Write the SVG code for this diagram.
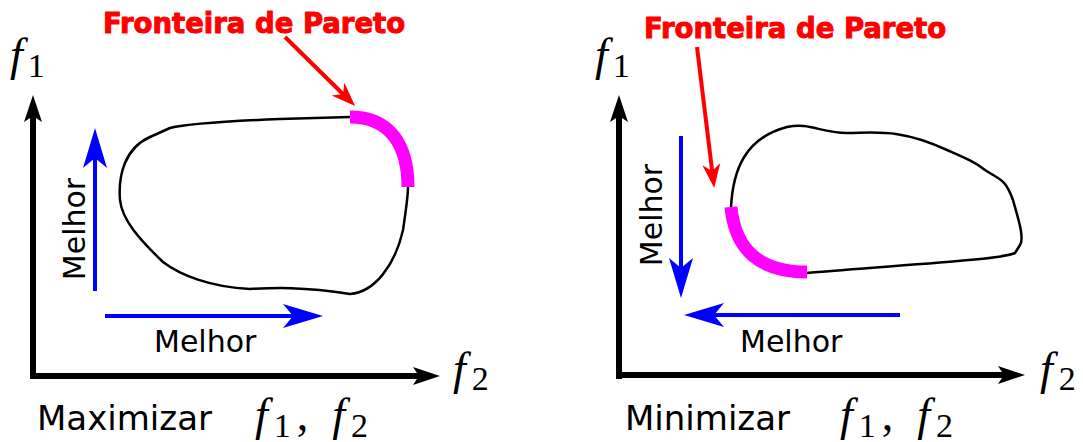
<svg xmlns="http://www.w3.org/2000/svg" width="1083" height="442" viewBox="0 0 1083 442">
<style>
.lbl{font-family:"DejaVu Sans",sans-serif;fill:#000}
.red{font-family:"DejaVu Sans",sans-serif;font-weight:bold;fill:#ff0000;stroke:#ff0000;stroke-width:1;stroke-linejoin:round;font-size:27.5px}
.math{font-family:"Liberation Serif","DejaVu Serif",serif;fill:#000}
.fi{font-style:italic}
.shape{fill:none;stroke:#000;stroke-width:2.5;stroke-linejoin:round}
.front{fill:none;stroke:#ff00ff;stroke-width:13}
.axis{stroke:#000;stroke-width:6;fill:none}
.blue{stroke:#0000ff;stroke-width:4;fill:none}
.redl{stroke:#ff0000;stroke-width:4;fill:none}
</style>
<defs>
<marker id="mAxis" markerUnits="userSpaceOnUse" viewBox="-15 -12 32 24" refX="0" refY="0" markerWidth="32" markerHeight="24" orient="auto" overflow="visible">
<path d="M15,0 L-12,-9 L-6,0 L-12,9 Z" fill="#000"/>
</marker>
<marker id="mBlue" markerUnits="userSpaceOnUse" viewBox="-22 -14 44 28" refX="0" refY="0" markerWidth="44" markerHeight="28" orient="auto" overflow="visible">
<path d="M20,0 L-20,-12 L-10,0 L-20,12 Z" fill="#0000ff"/>
</marker>
<marker id="mRed" markerUnits="userSpaceOnUse" viewBox="-16 -10 30 20" refX="0" refY="0" markerWidth="30" markerHeight="20" orient="auto" overflow="visible">
<path d="M10,0 L-14,-9 L-7,0 L-14,9 Z" fill="#ff0000"/>
</marker>
</defs>

<!-- LEFT PANEL -->
<g id="left-region">
<path class="shape" d="M350,117 L280,119 C230,121 190,123 170,128 L150,137 C125,148 118,175 120,200 C122,220 140,240 163,262 C180,275 210,287 250,289 C270,288 300,286 350,294 C375,292 395,265 403,230 C406,210 408,195 408,187"/>
</g>
<g id="left-front">
<path class="front" d="M350,117 C390,117 408,145 408,187"/>
</g>
<g id="left-title">
<text class="red" x="103" y="33">Fronteira de Pareto</text>
</g>
<g id="left-f1"><text class="math" x="10" y="70"><tspan class="fi" font-size="46">f</tspan><tspan font-size="34" dy="7" dx="5">1</tspan></text></g>
<g id="left-f2"><text class="math" x="453" y="384"><tspan class="fi" font-size="46">f</tspan><tspan font-size="34" dy="6" dx="6">2</tspan></text></g>
<g id="left-melhor-v"><text class="lbl" font-size="30" text-anchor="middle" transform="translate(85,229) rotate(-90)">Melhor</text></g>
<g id="left-melhor-h"><text class="lbl" font-size="30" x="154" y="352">Melhor</text></g>
<g id="left-caption">
<text class="lbl" font-size="34" x="37" y="430">Maximizar</text>
<text class="math" x="255" y="430"><tspan class="fi" font-size="46">f</tspan><tspan font-size="34" dy="7" dx="6">1</tspan><tspan font-size="46" dy="-7" dx="6">,</tspan><tspan class="fi" font-size="46" dx="24">f</tspan><tspan font-size="34" dy="7" dx="6">2</tspan></text>
</g>

<!-- RIGHT PANEL -->
<g id="right-region">
<path class="shape" d="M731,207 C733,170 745,138 787,127 C810,122 820,133 847,133 C875,133 900,128 947,150 C965,158 975,162 985,170 C1000,180 1005,178 1013,200 C1017,215 1025,238 1020,245 L1015,253 C1000,260 900,265 807,273"/>
</g>
<g id="right-front">
<path class="front" d="M731,207 C735,250 760,272 807,272"/>
</g>
<g id="right-title">
<text class="red" x="644" y="38">Fronteira de Pareto</text>
</g>
<g id="right-f1"><text class="math" x="595" y="70"><tspan class="fi" font-size="46">f</tspan><tspan font-size="34" dy="7" dx="5">1</tspan></text></g>
<g id="right-f2"><text class="math" x="1040" y="384"><tspan class="fi" font-size="46">f</tspan><tspan font-size="34" dy="6" dx="6">2</tspan></text></g>
<g id="right-melhor-v"><text class="lbl" font-size="30" text-anchor="middle" transform="translate(662,215) rotate(-90)">Melhor</text></g>
<g id="right-melhor-h"><text class="lbl" font-size="30" x="740" y="352">Melhor</text></g>
<g id="right-caption">
<text class="lbl" font-size="34" x="625" y="430">Minimizar</text>
<text class="math" x="840" y="430"><tspan class="fi" font-size="46">f</tspan><tspan font-size="34" dy="7" dx="6">1</tspan><tspan font-size="46" dy="-7" dx="6">,</tspan><tspan class="fi" font-size="46" dx="24">f</tspan><tspan font-size="34" dy="7" dx="6">2</tspan></text>
</g>

<!-- CONNECTORS -->
<g id="connectors">
<path class="axis" d="M33,379 L33,110" marker-end="url(#mAxis)"/>
<path class="axis" d="M30,376 L425,376" marker-end="url(#mAxis)"/>
<path class="blue" d="M95,291 L95,148" marker-end="url(#mBlue)"/>
<path class="blue" d="M105,316 L303,316" marker-end="url(#mBlue)"/>
<path class="redl" d="M285,37 L348,99" marker-end="url(#mRed)"/>

<path class="axis" d="M619,379 L619,110" marker-end="url(#mAxis)"/>
<path class="axis" d="M616,375 L1010,375" marker-end="url(#mAxis)"/>
<path class="blue" d="M681,136 L681,278" marker-end="url(#mBlue)"/>
<path class="blue" d="M900,315 L704,315" marker-end="url(#mBlue)"/>
<path class="redl" d="M697,47 L713,178" marker-end="url(#mRed)"/>
</g>
</svg>
